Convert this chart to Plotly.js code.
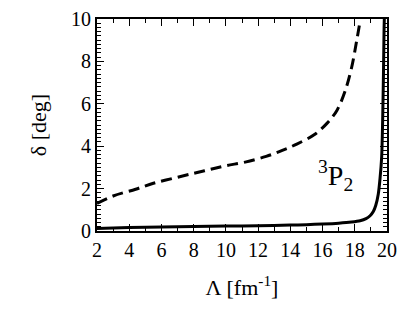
<!DOCTYPE html>
<html>
<head>
<meta charset="utf-8">
<script src="https://cdn.plot.ly/plotly-3.0.1.min.js"></script>
<style>html,body{margin:0;padding:0;background:#fff;}#plot{width:415px;height:316px;}</style>
</head>
<body>
<div id="plot"></div>
<script>
// Solid curve
const solidLambda = [2, 4, 6, 8, 10, 12, 14, 15, 16, 17, 17.8, 18.33, 18.7, 18.95, 19.15, 19.3, 19.46, 19.57, 19.67, 19.73, 19.78, 19.82, 19.85];
const solidDelta  = [0.12, 0.16, 0.19, 0.21, 0.23, 0.25, 0.28, 0.3, 0.33, 0.37, 0.42, 0.48, 0.58, 0.72, 0.92, 1.2, 1.75, 2.5, 3.5, 5.2, 7.4, 9.6, 10.5];
// Dashed curve
const dashLambda = [2, 3, 4.4, 5.5, 6.8, 8, 9, 10, 11.2, 12.5, 13.5, 14.4, 15.5, 16.3, 16.9, 17.4, 17.8, 18.1, 18.35];
const dashDelta  = [1.3, 1.65, 1.97, 2.25, 2.5, 2.72, 2.9, 3.08, 3.25, 3.52, 3.8, 4.1, 4.55, 5.1, 5.7, 6.6, 7.7, 8.9, 10.0];
// Axis ranges and tick steps
const xRange = [2, 20];
const yRange = [0, 10];
const xTickStep = 2, xMinorStep = 1;
const yTickStep = 2, yMinorStep = 0.2;

const serif = "Liberation Serif";

const traces = [
  {x: dashLambda, y: dashDelta, mode: 'lines', line: {color: '#000', width: 3, dash: '11px,6px', shape: 'spline'}, hoverinfo: 'skip'},
  {x: solidLambda, y: solidDelta, mode: 'lines', line: {color: '#000', width: 3, shape: 'spline', smoothing: 0.7}, hoverinfo: 'skip'},
  {x: dashLambda, y: dashDelta, xaxis: 'x2', yaxis: 'y2', mode: 'lines', opacity: 0, line: {width: 0}, hoverinfo: 'skip'}
];

const tickCommon = {
  ticks: 'inside', ticklen: 7, tickwidth: 1, tickcolor: '#000',
  showline: true, linecolor: '#000', linewidth: 2,
  showgrid: false, zeroline: false,
  tickfont: {family: serif, size: 20, color: '#000'}
};
function xAx(extra) {
  return Object.assign({}, tickCommon, {
    range: xRange, tickmode: 'linear', tick0: xRange[0], dtick: xTickStep,
    minor: {tickmode: 'linear', tick0: xRange[0], dtick: xMinorStep, ticks: 'inside', ticklen: 4, tickwidth: 1, tickcolor: '#000', showgrid: false}
  }, extra);
}
function yAx(extra) {
  return Object.assign({}, tickCommon, {
    range: yRange, tickmode: 'linear', tick0: yRange[0], dtick: yTickStep,
    minor: {tickmode: 'linear', tick0: yRange[0], dtick: yMinorStep, ticks: 'inside', ticklen: 4, tickwidth: 1, tickcolor: '#000', showgrid: false}
  }, extra);
}

const layout = {
  width: 415, height: 316,
  margin: {l: 97, r: 28, t: 19, b: 85},
  paper_bgcolor: '#fff', plot_bgcolor: '#fff',
  showlegend: false,
  font: {family: serif, color: '#000', size: 20},
  xaxis: xAx({title: {text: 'Λ [fm<sup>-1</sup>]', font: {family: serif, size: 22, color: '#000'}, standoff: 20}}),
  yaxis: yAx({title: {text: 'δ [deg]', font: {family: serif, size: 22, color: '#000'}, standoff: 18}}),
  xaxis2: xAx({overlaying: 'x', side: 'top', anchor: 'y2', showticklabels: false}),
  yaxis2: yAx({overlaying: 'y', side: 'right', anchor: 'x2', showticklabels: false}),
  annotations: [
    {x: 16.8, y: 2.6, xref: 'x', yref: 'y', text: '<sup>3</sup>P<sub>2</sub>', showarrow: false,
     font: {family: serif, size: 28, color: '#000'}}
  ]
};

Plotly.newPlot('plot', traces, layout, {displayModeBar: false, staticPlot: true});
</script>
</body>
</html>
